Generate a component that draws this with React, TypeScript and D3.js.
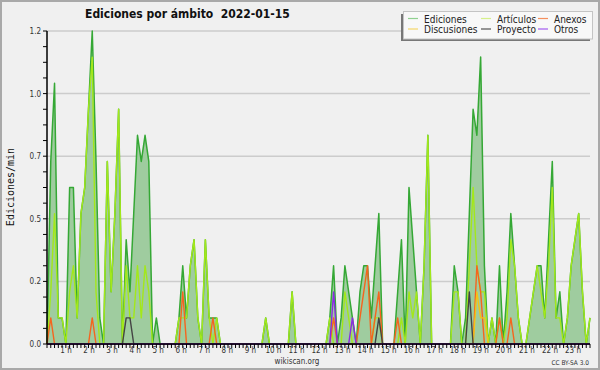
import * as d3 from 'd3';

// 10-minute bins, 00:00 .. 24:00 (145 points), edits per minute
const ediciones = [
  0, 0.7, 1.0, 0.1, 0.1, 0, 0.6, 0.6, 0.1, 0.5, 0.6, 0.9,
  1.2, 0.7, 0.1, 0, 0.7, 0.2, 0.5, 0.9, 0, 0.4, 0.2, 0.5,
  0.8, 0.7, 0.8, 0.7, 0, 0.1, 0, 0, 0, 0, 0, 0.1,
  0.3, 0.1, 0.3, 0.4, 0.1, 0, 0.4, 0.1, 0.1, 0.1, 0, 0,
  0, 0, 0, 0, 0, 0, 0, 0, 0, 0, 0.1, 0,
  0, 0, 0, 0, 0, 0.2, 0, 0, 0, 0, 0, 0,
  0, 0, 0, 0.1, 0.3, 0, 0.1, 0.3, 0.2, 0.1, 0, 0.2,
  0.3, 0.3, 0.1, 0.3, 0.5, 0, 0, 0, 0, 0.2, 0.4, 0,
  0.6, 0.4, 0.2, 0, 0.3, 0.8, 0, 0, 0, 0, 0, 0,
  0.3, 0.2, 0, 0.1, 0.5, 0.9, 0.8, 1.1, 0.3, 0, 0.1, 0,
  0.3, 0, 0.2, 0.5, 0.3, 0.1, 0, 0, 0.1, 0.2, 0.3, 0.3,
  0.1, 0.4, 0.7, 0.1, 0.2, 0, 0.1, 0.3, 0.4, 0.5, 0.2, 0,
  0.1,
];

const articulos = [
  0, 0.2, 0.5, 0.1, 0.1, 0, 0.2, 0.3, 0.1, 0.5, 0.6, 0.9,
  1.1, 0.2, 0, 0, 0.7, 0.2, 0.5, 0.9, 0, 0.3, 0.1, 0.1,
  0.3, 0.1, 0.3, 0.2, 0, 0, 0, 0, 0, 0, 0, 0.1,
  0.1, 0.1, 0.3, 0.4, 0.1, 0, 0.4, 0.1, 0, 0.1, 0, 0,
  0, 0, 0, 0, 0, 0, 0, 0, 0, 0, 0.1, 0,
  0, 0, 0, 0, 0, 0.2, 0, 0, 0, 0, 0, 0,
  0, 0, 0, 0.1, 0, 0, 0, 0.2, 0.1, 0, 0, 0,
  0, 0, 0, 0.1, 0.1, 0, 0, 0, 0, 0, 0.1, 0,
  0.2, 0.1, 0.2, 0, 0.3, 0.8, 0, 0, 0, 0, 0, 0,
  0.2, 0.2, 0, 0, 0.3, 0.6, 0.3, 0.2, 0.2, 0, 0.1, 0,
  0.1, 0, 0.1, 0.4, 0.3, 0.1, 0, 0, 0.1, 0.2, 0.3, 0.2,
  0.1, 0.3, 0.6, 0.1, 0.1, 0, 0.1, 0.3, 0.4, 0.5, 0.2, 0,
  0.1,
];

const anexos = [
  0, 0.1, 0, 0, 0, 0, 0, 0, 0, 0, 0, 0,
  0.1, 0, 0, 0, 0, 0, 0, 0, 0, 0, 0, 0,
  0, 0, 0, 0, 0, 0, 0, 0, 0, 0, 0, 0,
  0.2, 0, 0, 0, 0, 0, 0, 0, 0.1, 0, 0, 0,
  0, 0, 0, 0, 0, 0, 0, 0, 0, 0, 0, 0,
  0, 0, 0, 0, 0, 0, 0, 0, 0, 0, 0, 0,
  0, 0, 0, 0, 0.1, 0, 0, 0, 0, 0, 0, 0.1,
  0.2, 0.3, 0, 0.1, 0.2, 0, 0, 0, 0, 0.1, 0, 0,
  0, 0, 0, 0, 0, 0, 0, 0, 0, 0, 0, 0,
  0, 0, 0, 0, 0, 0, 0.3, 0.2, 0, 0, 0, 0,
  0.1, 0, 0, 0.1, 0, 0, 0, 0, 0, 0, 0, 0,
  0, 0, 0, 0, 0, 0, 0, 0, 0, 0, 0, 0,
  0,
];

const discusiones = [
  0, 0, 0, 0, 0, 0, 0, 0, 0, 0, 0, 0,
  0, 0, 0, 0, 0, 0, 0, 0, 0, 0, 0, 0,
  0, 0, 0, 0, 0, 0, 0, 0, 0, 0, 0, 0,
  0, 0, 0, 0, 0, 0, 0, 0, 0, 0, 0, 0,
  0, 0, 0, 0, 0, 0, 0, 0, 0, 0, 0, 0,
  0, 0, 0, 0, 0, 0, 0, 0, 0, 0, 0, 0,
  0, 0, 0, 0, 0, 0, 0, 0, 0, 0, 0, 0,
  0, 0, 0, 0, 0, 0, 0, 0, 0, 0, 0, 0,
  0, 0, 0, 0, 0, 0, 0, 0, 0, 0, 0, 0,
  0, 0, 0, 0, 0, 0, 0.2, 0.1, 0.1, 0, 0, 0,
  0, 0, 0, 0, 0, 0, 0, 0, 0, 0, 0, 0,
  0, 0, 0, 0, 0, 0, 0, 0, 0, 0, 0, 0,
  0,
];

const proyecto = [
  0, 0, 0, 0, 0, 0, 0, 0, 0, 0, 0, 0,
  0, 0, 0, 0, 0, 0, 0, 0, 0, 0.1, 0.1, 0,
  0, 0, 0, 0, 0, 0, 0, 0, 0, 0, 0, 0,
  0, 0, 0, 0, 0, 0, 0, 0, 0, 0, 0, 0,
  0, 0, 0, 0, 0, 0, 0, 0, 0, 0, 0, 0,
  0, 0, 0, 0, 0, 0, 0, 0, 0, 0, 0, 0,
  0, 0, 0, 0, 0, 0, 0, 0, 0, 0, 0, 0,
  0, 0, 0, 0, 0.1, 0, 0, 0, 0, 0, 0, 0,
  0, 0, 0, 0, 0, 0, 0, 0, 0, 0, 0, 0,
  0, 0, 0, 0, 0.2, 0, 0, 0, 0, 0, 0, 0,
  0, 0, 0, 0, 0, 0, 0, 0, 0, 0, 0, 0,
  0, 0, 0, 0, 0, 0, 0, 0, 0, 0, 0, 0,
  0,
];

const otros = [
  0, 0, 0, 0, 0, 0, 0, 0, 0, 0, 0, 0,
  0, 0, 0, 0, 0, 0, 0, 0, 0, 0, 0, 0,
  0, 0, 0, 0, 0, 0, 0, 0, 0, 0, 0, 0,
  0, 0, 0, 0, 0, 0, 0, 0, 0, 0, 0, 0,
  0, 0, 0, 0, 0, 0, 0, 0, 0, 0, 0, 0,
  0, 0, 0, 0, 0, 0, 0, 0, 0, 0, 0, 0,
  0, 0, 0, 0, 0.2, 0, 0, 0, 0, 0.1, 0, 0,
  0, 0, 0, 0, 0, 0, 0, 0, 0, 0, 0, 0,
  0, 0, 0, 0, 0, 0, 0, 0, 0, 0, 0, 0,
  0, 0, 0, 0, 0, 0, 0, 0, 0, 0, 0, 0,
  0, 0, 0, 0, 0, 0, 0, 0, 0, 0, 0, 0,
  0, 0, 0, 0, 0, 0, 0, 0, 0, 0, 0, 0,
  0,
];

const hourLabels = [
  '1 h', '2 h', '3 h', '4 h', '5 h', '6 h', '7 h', '8 h', '9 h', '10 h', '11 h', '12 h',
  '13 h', '14 h', '15 h', '16 h', '17 h', '18 h', '19 h', '20 h', '21 h', '22 h', '23 h',
];
const yTicks = [0, 0.24, 0.48, 0.72, 0.96, 1.2];

const FONT = "'DejaVu Sans Condensed', 'DejaVu Sans', sans-serif";

const series = [
  { name: 'Artículos', values: articulos, color: '#a3e81a' },
  { name: 'Anexos', values: anexos, color: '#f5641e' },
  { name: 'Discusiones', values: discusiones, color: '#f2c418' },
  { name: 'Proyecto', values: proyecto, color: '#444444' },
  { name: 'Otros', values: otros, color: '#8a2be2' },
];

const legendItems = [
  { name: 'Ediciones', color: '#8fd08f', col: 0, row: 0 },
  { name: 'Artículos', color: '#d6f08a', col: 1, row: 0 },
  { name: 'Anexos', color: '#f5905e', col: 2, row: 0 },
  { name: 'Discusiones', color: '#f5d86a', col: 0, row: 1 },
  { name: 'Proyecto', color: '#555555', col: 1, row: 1 },
  { name: 'Otros', color: '#a35cf0', col: 2, row: 1 },
];
const legendCols = [408, 481, 538];

export default function App() {
  const x = d3.scaleLinear().domain([0, 144]).range([47, 590]);
  const y = d3.scaleLinear().domain([0, 1.2]).range([344, 31]);
  // hour labels sit slightly off the 10-min grid in the original
  const xLabel = d3.scaleLinear().domain([1, 23]).range([66, 573]);

  const line = d3.line<number>().x((_, i) => x(i)).y(d => y(d));
  const area = d3.area<number>().x((_, i) => x(i)).y0(y(0)).y1(d => y(d));

  const minorY = d3.range(0, 1.2001, 0.06);
  const xTicks = d3.range(0, 145);

  return (
    <svg width={600} height={370} style={{ position: 'absolute', left: 0, top: 0 }} fontFamily={FONT}>
      <rect x={0} y={0} width={600} height={370} fill="#f0f0f0" />
      <rect x={1} y={1} width={598} height={368} fill="none" stroke="#a9a9a9" strokeWidth={2} />

      {yTicks.slice(1).map(t => (
        <line key={t} x1={x(0)} x2={x(144)} y1={y(t)} y2={y(t)} stroke="#cccccc" strokeWidth={1.5} />
      ))}

      <path d={area(ediciones) ?? ''} fill="#9fcc9f" />
      <path d={line(ediciones) ?? ''} fill="none" stroke="#35a835" strokeWidth={1.5} strokeLinejoin="round" />
      {series.map(s => (
        <path key={s.name} d={line(s.values) ?? ''} fill="none" stroke={s.color} strokeWidth={1.4} strokeLinejoin="round" />
      ))}

      {/* y axis */}
      <line x1={47} x2={47} y1={y(1.2)} y2={y(0)} stroke="#000" strokeWidth={1.5} />
      {minorY.map(t => (
        <line key={t} x1={43} x2={47} y1={y(t)} y2={y(t)} stroke="#000" />
      ))}
      {yTicks.map(t => (
        <text key={t} x={41} y={y(t) + 3} fontSize={8} textAnchor="end" fill="#333">
          {t.toFixed(1)}
        </text>
      ))}
      <text
        transform="translate(14,187) rotate(-90)"
        textAnchor="middle"
        fontSize={10}
        fontFamily="'DejaVu Sans Mono', monospace"
        fill="#111"
      >
        Ediciones/min
      </text>

      {/* x axis */}
      <line x1={x(0)} x2={x(144)} y1={344} y2={344} stroke="#000" strokeWidth={1.5} />
      {xTicks.map(i => (
        <line key={i} x1={x(i)} x2={x(i)} y1={344} y2={348} stroke="#000" />
      ))}
      {hourLabels.map((l, i) => (
        <text key={l} x={xLabel(i + 1)} y={353} fontSize={8} textAnchor="middle" fill="#333">
          {l}
        </text>
      ))}

      <text x={297} y={364} fontSize={8} textAnchor="middle" fill="#333">wikiscan.org</text>
      <text x={589} y={365} fontSize={6.5} textAnchor="end" fill="#333">CC BY-SA 3.0</text>

      {/* title */}
      <text x={85} y={18} fontSize={12} fontWeight="bold" fill="#111" style={{ whiteSpace: 'pre' }}>
        {'Ediciones por ámbito  2022-01-15'}
      </text>

      {/* legend */}
      <rect x={401} y={14} width={189} height={27} fill="#777" />
      <rect x={403.5} y={11.5} width={189} height={27.5} fill="#f8f8f8" stroke="#c4c4c4" />
      {legendItems.map(it => {
        const lx = legendCols[it.col];
        const ly = 18.5 + it.row * 10.5;
        return (
          <g key={it.name}>
            <line x1={lx} x2={lx + 10} y1={ly} y2={ly} stroke={it.color} strokeWidth={1.2} />
            <text x={lx + 16} y={ly + 4} fontSize={10} fill="#222">{it.name}</text>
          </g>
        );
      })}
    </svg>
  );
}
